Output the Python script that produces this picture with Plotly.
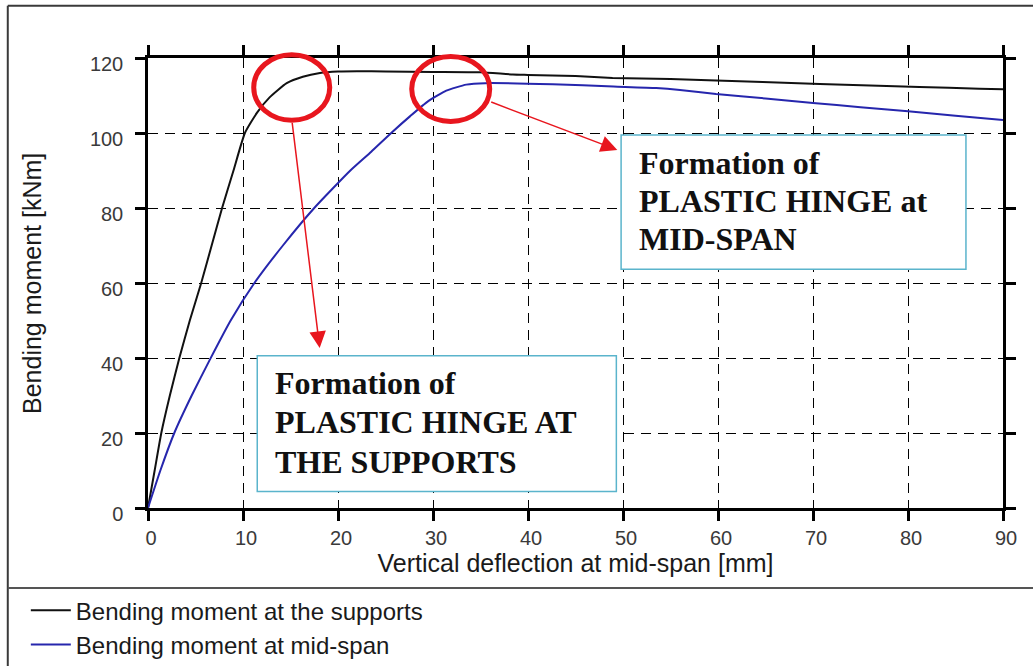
import plotly.graph_objects as go

# Moment-deflection response of the beam
deflection_supports = [0, 0.7, 1.4, 2.3, 3.3, 4.4, 5.6, 6.7, 7.8, 9.0, 10.2, 11.5, 12.8, 14.6,
                       16.3, 18.1, 20.0, 22.0, 25.0, 30.0, 35.0, 38.4, 40.0, 45.0, 48.9, 55.0,
                       59.8, 64.7, 70.7, 76.0, 81.2, 87.5, 90.0]
moment_supports = [0, 10, 20, 30, 40, 50, 60, 70, 80, 90, 100, 105.5, 109.5, 113.3,
                   115.0, 116.0, 116.4, 116.5, 116.4, 116.3, 116.2, 115.6, 115.5, 115.2, 114.7, 114.4,
                   114.0, 113.6, 113.1, 112.7, 112.3, 111.8, 111.7]

deflection_midspan = [0, 1.3, 2.8, 4.6, 6.5, 8.7, 11.2, 14.2, 17.5, 21.3, 23.5, 25.6, 27.6,
                      29.5, 31.4, 33.5, 35.5, 42.6, 49.0, 53.5, 56.0, 59.8, 65.0, 70.0, 75.0,
                      80.0, 85.0, 90.0]
moment_midspan = [0, 10, 20.2, 30, 39.5, 50, 60, 70, 80, 90, 95, 100, 104.5,
                  108.5, 111.3, 112.9, 113.3, 113.0, 112.4, 112.0, 111.5, 110.4, 109.2, 108.0, 106.9,
                  105.8, 104.6, 103.5]

x_ticks = [0, 10, 20, 30, 40, 50, 60, 70, 80, 90]
y_ticks = [0, 20, 40, 60, 80, 100, 120]

series_names = ["Bending moment at the supports", "Bending moment at mid-span"]
x_title = "Vertical deflection at mid-span [mm]"
y_title = "Bending moment [kNm]"

note_supports = ["Formation of", "PLASTIC HINGE AT", "THE SUPPORTS"]
note_midspan = ["Formation of", "PLASTIC HINGE at", "MID-SPAN"]

X_MAX, Y_MAX = 90, 120
SANS = "Liberation Sans, Arial, sans-serif"
SERIF = "Liberation Serif, Times New Roman, serif"
RED = "#e8161e"
BOX_EDGE = "#5ab4cc"

fig = go.Figure()
fig.add_trace(go.Scatter(x=deflection_supports, y=moment_supports, mode="lines",
                         name=series_names[0],
                         line=dict(color="#111111", width=2, shape="spline", smoothing=0.5)))
fig.add_trace(go.Scatter(x=deflection_midspan, y=moment_midspan, mode="lines",
                         name=series_names[1],
                         line=dict(color="#2626ad", width=2, shape="spline", smoothing=0.5)))

axis_common = dict(
    showline=True, linecolor="black", linewidth=2.5, mirror="ticks",
    ticks="outside", ticklen=10, tickwidth=2.5, tickcolor="black",
    showgrid=True, gridcolor="black", gridwidth=1.2, griddash="10px,7px",
    zeroline=False, automargin=True,
    tickfont=dict(family=SANS, size=20, color="#3a3a3a"),
    title_font=dict(family=SANS, size=25, color="#1a1a1a"),
)
fig.update_xaxes(range=[0, X_MAX], tickvals=x_ticks, title_text=x_title,
                 title_standoff=4, ticklabelshift=3, ticklabelstandoff=0, **axis_common)
fig.update_yaxes(range=[0, Y_MAX], tickvals=y_ticks,
                 ticklabelshift=6, ticklabelstandoff=8, **axis_common)


def dom_x(v):
    return v / X_MAX


def dom_y(v):
    return v / Y_MAX


shapes = []
# outer frame and legend separator
shapes.append(dict(type="line", xref="paper", yref="paper", x0=-0.164, x1=1.1, y0=1.116, y1=1.116,
                   line=dict(color="#3a3a3a", width=2)))
shapes.append(dict(type="line", xref="paper", yref="paper", x0=-0.164, x1=-0.164, y0=1.116, y1=-0.4,
                   line=dict(color="#3a3a3a", width=2)))
shapes.append(dict(type="line", xref="paper", yref="paper", x0=-0.164, x1=1.1, y0=-0.178, y1=-0.178,
                   line=dict(color="#555555", width=2)))

# annotation boxes
for (x0, x1, y0, y1) in [(11.5, 49.3, 4.4, 40.6), (49.8, 86.1, 63.7, 99.5)]:
    shapes.append(dict(type="rect", xref="x", yref="y", x0=x0, x1=x1, y0=y0, y1=y1,
                       fillcolor="white", line=dict(color=BOX_EDGE, width=1.5), layer="above"))

# red rings around the hinge regions
for (x0, x1, y0, y1) in [(11.13, 19.13, 103.4, 120.9), (27.76, 35.97, 103.1, 120.4)]:
    shapes.append(dict(type="circle", xref="x domain", yref="y domain",
                       x0=dom_x(x0), x1=dom_x(x1), y0=dom_y(y0), y1=dom_y(y1),
                       line=dict(color=RED, width=5), layer="above"))

annotations = []
# vertical axis title
annotations.append(dict(x=-0.1357, y=0.5, xref="paper", yref="paper", text=y_title,
                        textangle=-90, showarrow=False, xanchor="center", yanchor="middle",
                        font=dict(family=SANS, size=25, color="#1a1a1a")))

for (tx, ty, hx, hy) in [(15.16, 103.1, 18.07, 42.7), (35.97, 108.4, 49.4, 95.5)]:
    annotations.append(dict(x=hx, y=hy, ax=tx, ay=ty, xref="x", yref="y", axref="x", ayref="y",
                            text="", showarrow=True, arrowhead=2, arrowsize=2.2,
                            arrowwidth=1.5, arrowcolor=RED, standoff=0))

for lines, left, ys in [(note_supports, 13.2, [33.3, 22.9, 12.3]),
                        (note_midspan, 51.5, [91.9, 81.9, 71.7])]:
    for txt, yy in zip(lines, ys):
        annotations.append(dict(x=left, y=yy, xref="x", yref="y", text=txt, showarrow=False,
                                xanchor="left", yanchor="middle",
                                font=dict(family=SERIF, size=32, color="#111111", weight="bold")))

fig.update_layout(
    width=1033, height=666,
    margin=dict(l=148, r=30, t=58, b=158, autoexpand=False),
    paper_bgcolor="white", plot_bgcolor="white",
    shapes=shapes, annotations=annotations,
    showlegend=True,
    legend=dict(xref="container", yref="container", x=0.025, y=0.117,
                xanchor="left", yanchor="top", bgcolor="rgba(0,0,0,0)",
                font=dict(family=SANS, size=24, color="#1a1a1a"),
                itemwidth=40, tracegroupgap=0),
)

fig.write_html("out.html")
